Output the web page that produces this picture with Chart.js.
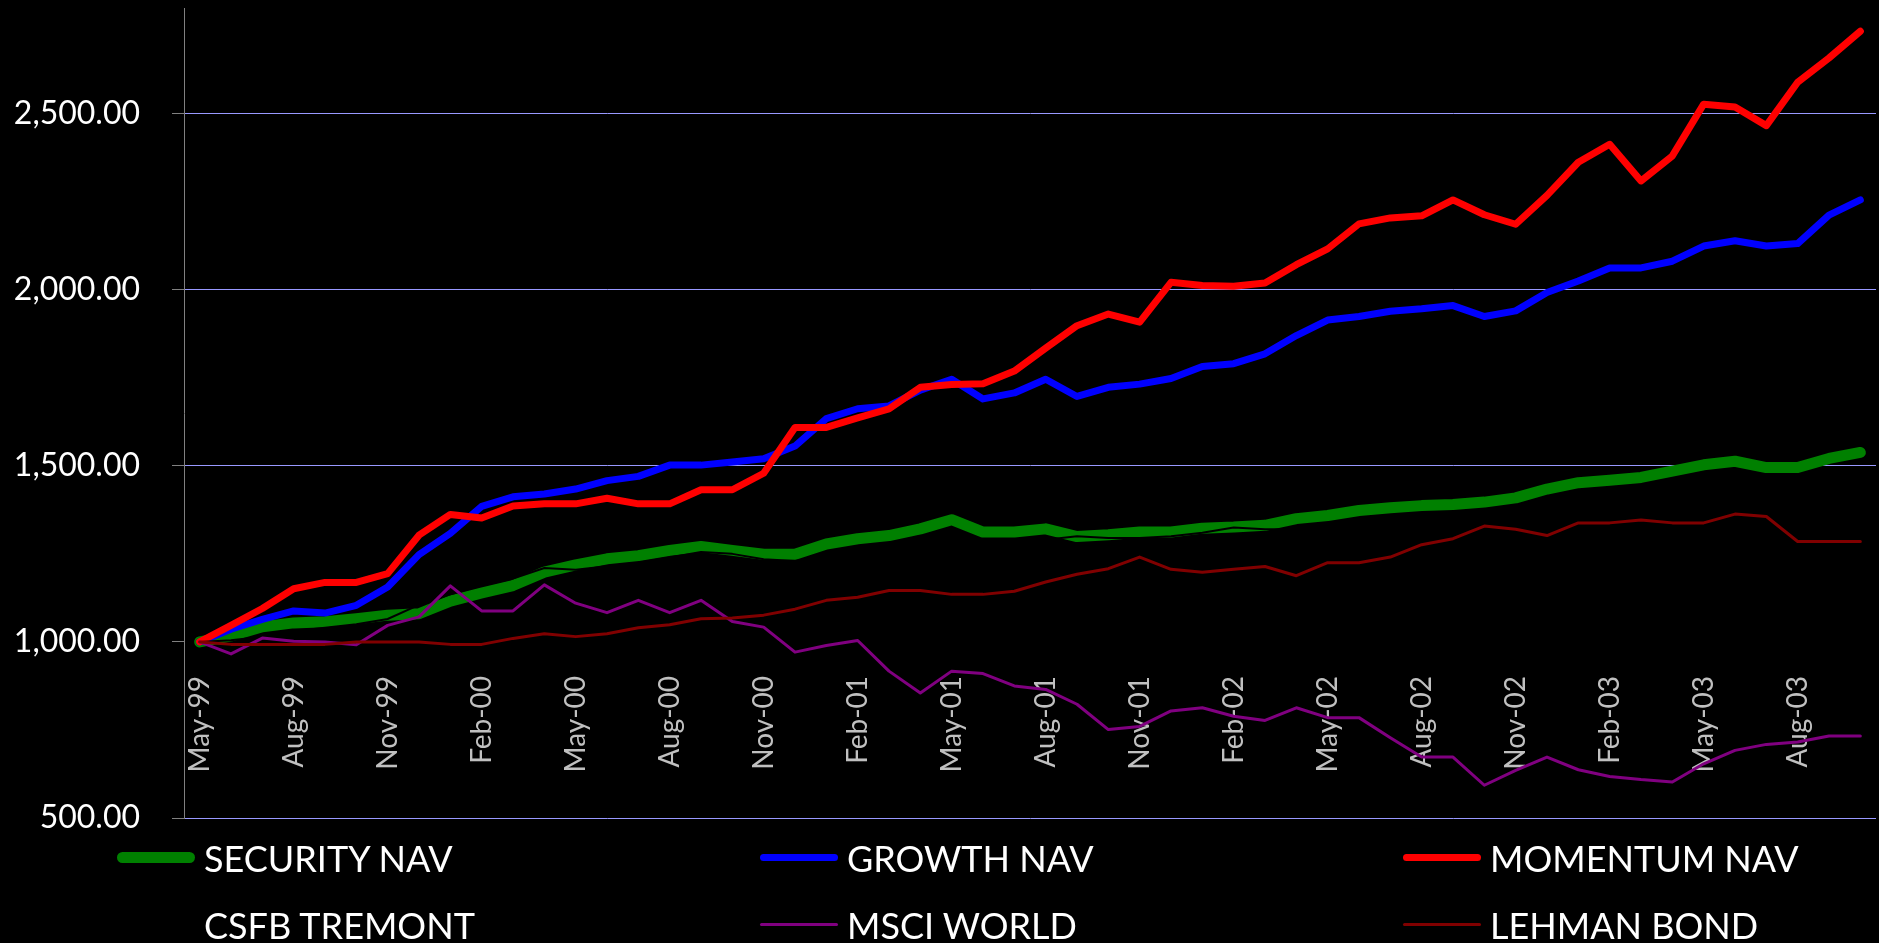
<!DOCTYPE html>
<html lang="en">
<head>
    <meta charset="UTF-8">
    <title>NAV Comparison</title>
    <script src="https://cdn.jsdelivr.net/npm/chart.js"></script>
    <style>
        body {
            margin: 0;
            padding: 0;
            background-color: #000;
            font-family: 'Lato', sans-serif;
        }

        .wrap {
            position: relative;
            width: 1879px;
            height: 943px;
            overflow: hidden;
        }

        #navChart {
            position: absolute;
            left: 0;
            top: 0;
        }

        .legend {
            position: absolute;
            left: 117px;
            top: 824px;
            display: grid;
            grid-template-columns: repeat(3, 643px);
        }

        .legend-item {
            display: flex;
            align-items: center;
            height: 67px;
            color: #fff;
            font-size: 36px;
            white-space: nowrap;
        }

        .legend-line {
            width: 78px;
            margin-right: 9px;
            border-radius: 6px;
        }
    </style>
</head>
<body>
    <div class="wrap">
        <canvas id="navChart" width="1879" height="943"></canvas>
        <div class="legend" id="legend"></div>
    </div>

    <script>
        // monthly categories, May-99 .. Oct-03
        const months = [
            'May-99', 'Jun-99', 'Jul-99', 'Aug-99', 'Sep-99', 'Oct-99', 'Nov-99', 'Dec-99',
            'Jan-00', 'Feb-00', 'Mar-00', 'Apr-00', 'May-00', 'Jun-00', 'Jul-00', 'Aug-00', 'Sep-00', 'Oct-00', 'Nov-00', 'Dec-00',
            'Jan-01', 'Feb-01', 'Mar-01', 'Apr-01', 'May-01', 'Jun-01', 'Jul-01', 'Aug-01', 'Sep-01', 'Oct-01', 'Nov-01', 'Dec-01',
            'Jan-02', 'Feb-02', 'Mar-02', 'Apr-02', 'May-02', 'Jun-02', 'Jul-02', 'Aug-02', 'Sep-02', 'Oct-02', 'Nov-02', 'Dec-02',
            'Jan-03', 'Feb-03', 'Mar-03', 'Apr-03', 'May-03', 'Jun-03', 'Jul-03', 'Aug-03', 'Sep-03', 'Oct-03'
        ];

        const securityNav = [
            1000, 1017, 1043, 1054, 1057, 1066, 1076, 1080, 1116, 1139,
            1160, 1198, 1219, 1236, 1245, 1260, 1271, 1260, 1249, 1249,
            1278, 1293, 1302, 1321, 1347, 1312, 1312, 1321, 1299, 1304,
            1312, 1312, 1323, 1326, 1331, 1350, 1359, 1373, 1381, 1387,
            1390, 1397, 1409, 1434, 1452, 1459, 1467, 1485, 1503, 1513,
            1495, 1495, 1521, 1538
        ];

        const growthNav = [
            1000, 1036, 1064, 1088, 1082, 1104, 1156, 1248, 1308, 1385,
            1412, 1420, 1434, 1458, 1470, 1502, 1502, 1511, 1520, 1556,
            1634, 1662, 1670, 1715, 1746, 1690, 1707, 1746, 1697, 1723,
            1732, 1748, 1782, 1790, 1818, 1870, 1914, 1924, 1939, 1946,
            1955, 1924, 1940, 1992, 2025, 2062, 2062, 2081, 2124, 2139,
            2124, 2131, 2212, 2255
        ];

        const momentumNav = [
            1000, 1047, 1095, 1151, 1169, 1169, 1194, 1303, 1362, 1352,
            1386, 1392, 1392, 1408, 1392, 1392, 1432, 1432, 1479, 1609,
            1609, 1636, 1662, 1723, 1731, 1733, 1769, 1834, 1898, 1931,
            1908, 2021, 2012, 2010, 2019, 2071, 2116, 2187, 2204, 2210,
            2255, 2213, 2186, 2268, 2362, 2413, 2309, 2380, 2527, 2519,
            2466, 2589, 2658, 2734
        ];

        const csfbTremont = [
            1000, 1005, 1015, 1030, 1040, 1050, 1065, 1105, 1135, 1160,
            1180, 1210, 1205, 1215, 1225, 1240, 1255, 1250, 1235, 1230,
            1245, 1260, 1270, 1280, 1290, 1285, 1285, 1290, 1300, 1295,
            1295, 1300, 1310, 1325, 1320, 1320, 1330, 1338, 1345, 1350,
            1355, 1360, 1365, 1375, 1385, 1390, 1395, 1400, 1410, 1420,
            1420, 1425, 1430, 1440
        ];

        const msciWorld = [
            1000, 966, 1011, 1002, 1000, 992, 1047, 1071, 1159, 1088,
            1088, 1162, 1110, 1083, 1118, 1083, 1118, 1058, 1042, 971,
            990, 1004, 917, 855, 917, 910, 875, 865, 823, 751,
            760, 804, 813, 789, 777, 813, 785, 785, 728, 673,
            673, 593, 635, 673, 637, 618, 609, 602, 654, 692,
            709, 716, 733, 733
        ];

        const lehmanBond = [
            1000, 993, 993, 993, 993, 1000, 1000, 1000, 993, 993,
            1010, 1023, 1015, 1023, 1040, 1049, 1066, 1068, 1076, 1093,
            1118, 1127, 1146, 1146, 1135, 1135, 1144, 1170, 1192, 1208,
            1241, 1206, 1198, 1206, 1214, 1188, 1225, 1225, 1241, 1276,
            1293, 1329, 1320, 1302, 1338, 1338, 1346, 1338, 1338, 1363,
            1356, 1285, 1285, 1285
        ];

        const yTicks = [500, 1000, 1500, 2000, 2500];

        function series(label, data, color, width, order) {
            return {
                label: label,
                data: data,
                borderColor: color,
                backgroundColor: color,
                borderWidth: width,
                order: order
            };
        }

        const ctx = document.getElementById('navChart').getContext('2d');
        const navChart = new Chart(ctx, {
            type: 'line',
            data: {
                labels: months,
                datasets: [
                    series('SECURITY NAV', securityNav, '#008000', 11, 6),
                    series('GROWTH NAV', growthNav, '#0000FF', 7, 5),
                    series('MOMENTUM NAV', momentumNav, '#FF0000', 7, 4),
                    series('CSFB TREMONT', csfbTremont, '#000000', 2, 3),
                    series('MSCI WORLD', msciWorld, '#800080', 3, 2),
                    series('LEHMAN BOND', lehmanBond, '#800000', 3, 1)
                ]
            },
            options: {
                responsive: false,
                animation: false,
                layout: {
                    padding: { top: 8, right: 3, bottom: 125, left: 0 }
                },
                plugins: {
                    legend: { display: false },
                    tooltip: { enabled: false }
                },
                elements: {
                    point: { radius: 0 },
                    line: { tension: 0, borderCapStyle: 'round', borderJoinStyle: 'round' }
                },
                scales: {
                    x: {
                        position: { y: 1000 },
                        offset: true,
                        grid: { display: false },
                        border: { display: false },
                        afterFit: function (scale) {
                            // labels hang inside the plot, so they reserve no room
                            scale.paddingLeft = 0;
                            scale.paddingRight = 0;
                            scale.paddingTop = 0;
                            scale.paddingBottom = 0;
                        },
                        ticks: {
                            autoSkip: false,
                            minRotation: 90,
                            maxRotation: 90,
                            padding: 26,
                            color: '#C0C0C0',
                            font: { family: 'Lato', size: 28 },
                            callback: function (val, i) {
                                return i % 3 === 0 ? months[i] : '';
                            }
                        }
                    },
                    y: {
                        min: 500,
                        max: 2800,
                        afterBuildTicks: function (scale) {
                            scale.ticks = yTicks.map(v => ({ value: v }));
                        },
                        afterFit: function (scale) {
                            scale.width = 184;
                            scale.paddingTop = 0;
                            scale.paddingBottom = 0;
                        },
                        border: { color: '#808080', width: 1 },
                        grid: {
                            color: function (c) {
                                return c.tick && c.tick.value === 1000 ? 'rgba(0,0,0,0)' : '#9999FF';
                            },
                            tickColor: '#808080',
                            tickLength: 12
                        },
                        ticks: {
                            padding: 32,
                            color: '#FFFFFF',
                            font: { family: 'Lato', size: 32 },
                            callback: function (v) {
                                return v.toLocaleString('en-US', { minimumFractionDigits: 2, maximumFractionDigits: 2 });
                            }
                        }
                    }
                }
            }
        });

        // legend built from the chart's datasets, 3 columns like the original
        const legendBox = document.getElementById('legend');
        navChart.data.datasets.forEach(function (ds) {
            const item = document.createElement('div');
            item.className = 'legend-item';
            const line = document.createElement('span');
            line.className = 'legend-line';
            line.style.height = Math.max(ds.borderWidth, 3) + 'px';
            line.style.backgroundColor = ds.borderColor;
            const text = document.createElement('span');
            text.textContent = ds.label;
            item.appendChild(line);
            item.appendChild(text);
            legendBox.appendChild(item);
        });
    </script>
</body>
</html>
